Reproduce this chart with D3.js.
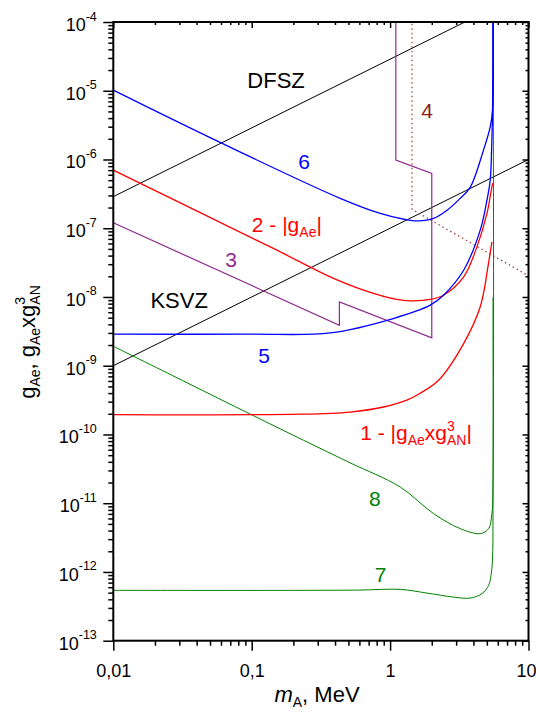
<!DOCTYPE html>
<html>
<head>
<meta charset="utf-8">
<script src="https://cdn.jsdelivr.net/npm/d3@7"></script>
<style>
body { margin: 0; background: #fff; }
text { font-family: "Liberation Sans", Arial, Helvetica, sans-serif; }
</style>
</head>
<body>
<svg id="chart" width="536" height="716"></svg>
<script>
// axes
var xMajor = [0.01, 0.1, 1, 10];
var xMajorLabels = ["0,01", "0,1", "1", "10"];
var yExponents = [-13, -12, -11, -10, -9, -8, -7, -6, -5, -4];

// reference lines  [m (MeV), g]
var dfsz = [[0.01, 2.88e-7], [10, 2.88e-4]];
var ksvz = [[0.01, 1e-9], [10, 1e-6]];

// limits  [m (MeV), g]
var curve1 = [[0.01, 1.95e-10], [0.224, 1.97e-10], [0.515, 2.12e-10], [0.896, 2.51e-10], [1.32, 3.15e-10],
              [1.65, 3.98e-10], [2.24, 6.15e-10], [3.40, 2.1e-9], [4.48, 7.2e-9], [5.14, 3.08e-8], [5.44, 6.34e-8]];
var curve2 = [[0.01, 7.0e-7], [0.1435, 5.08e-8], [0.369, 1.96e-8], [0.642, 1.26e-8], [1.12, 9.2e-9], [1.40, 8.8e-9],
              [1.95, 9.2e-9], [2.43, 1.06e-8], [3.40, 1.96e-8], [4.24, 5.36e-8], [5.01, 1.64e-7], [5.44, 4.01e-7], [5.52, 4.53e-7]];
var curve3 = [[0.01, 1.2e-7], [0.43, 3.88e-9], [0.43, 8.49e-9], [2.0, 2.54e-9], [2.0, 6.28e-7], [1.10, 9.8e-7], [1.10, 2e-4]];
var curve4 = [[1.44, 2e-4], [1.44, 1.88e-7], [10, 2.03e-8]];
var curve5 = [[0.01, 2.88e-9], [0.0974, 2.88e-9], [0.369, 3.0e-9], [1.053, 4.86e-9], [1.95, 7.6e-9], [2.43, 1.06e-8],
              [3.40, 2.45e-8], [4.48, 9.4e-8], [5.01, 2.56e-7], [5.29, 5.0e-7], [5.41, 1.37e-6], [5.50, 5e-6], [5.53, 2e-4]];
var curve6 = [[0.01, 1.02e-5], [0.0591, 1.77e-6], [0.436, 2.72e-7], [0.848, 1.64e-7], [1.285, 1.34e-7], [1.596, 1.28e-7],
              [2.06, 1.39e-7], [2.58, 1.83e-7], [3.21, 2.72e-7], [3.79, 3.93e-7], [4.73, 1.37e-6], [5.29, 2.99e-6],
              [5.50, 5.24e-6], [5.53, 2e-4]];
var curve7 = [[0.01, 5.4e-13], [0.224, 5.4e-13], [0.6, 5.45e-13], [1.183, 5.58e-13], [1.845, 4.93e-13], [2.87, 4.31e-13],
              [3.79, 4.17e-13], [4.61, 4.83e-13], [5.15, 6.38e-13], [5.38, 9.44e-13], [5.50, 1.65e-12], [5.54, 1.1e-11], [5.54, 9.9e-9]];
var curve8 = [[0.01, 1.92e-9], [0.0316, 6.1e-10], [0.1, 1.93e-10], [0.2366, 8.24e-11], [0.514, 3.87e-11], [1.183, 1.72e-11],
              [2.06, 7.06e-12], [3.21, 4.27e-12], [4.48, 3.61e-12], [5.15, 4.27e-12], [5.44, 7.06e-12], [5.54, 1.93e-11], [5.55, 2e-4]];

var width = 536, height = 716;
var plotLeft = 113.3, plotRight = 528.5, plotTop = 22, plotBottom = 640.7;

var svg = d3.select("#chart");

var x = d3.scaleLog().domain([0.01, 10]).range([plotLeft, plotRight]);
var y = d3.scaleLog().domain([1e-13, 1e-4]).range([plotBottom, plotTop]);

svg.append("defs").append("clipPath").attr("id", "plotclip")
  .append("rect")
    .attr("x", plotLeft).attr("y", plotTop)
    .attr("width", plotRight - plotLeft).attr("height", plotBottom - plotTop);

// minor tick values, 2..9 in each decade
var xMinor = [], yMinor = [];
for (var e = -2; e < 1; e++) for (var k = 2; k < 10; k++) xMinor.push(k * Math.pow(10, e));
for (var e = -13; e < -4; e++) for (var k = 2; k < 10; k++) yMinor.push(k * Math.pow(10, e));
var yMajor = yExponents.map(function(p) { return Math.pow(10, p); });

function addAxis(axis, tx, ty) {
  var g = svg.append("g").attr("transform", "translate(" + tx + "," + ty + ")").call(axis);
  g.select(".domain").remove();
  g.selectAll(".tick line").attr("stroke", "#000").attr("stroke-width", 1.5);
  return g;
}

// outward ticks: left and bottom
addAxis(d3.axisLeft(y).tickValues(yMinor).tickSize(5).tickFormat(""), plotLeft, 0);
var yAxisG = addAxis(d3.axisLeft(y).tickValues(yMajor).tickSize(10).tickFormat(""), plotLeft, 0);
addAxis(d3.axisBottom(x).tickValues(xMinor).tickSize(5).tickFormat(""), 0, plotBottom);
var xAxisG = addAxis(d3.axisBottom(x).tickValues(xMajor).tickSize(10).tickFormat(""), 0, plotBottom);

// inward ticks: top and right
addAxis(d3.axisTop(x).tickValues(xMinor).tickSize(-3).tickFormat(""), 0, plotTop);
addAxis(d3.axisTop(x).tickValues(xMajor).tickSize(-6).tickFormat(""), 0, plotTop);
addAxis(d3.axisRight(y).tickValues(yMinor).tickSize(-3).tickFormat(""), plotRight, 0);
addAxis(d3.axisRight(y).tickValues(yMajor).tickSize(-6).tickFormat(""), plotRight, 0);

yAxisG.selectAll(".tick").each(function(d, i) {
  var t = d3.select(this).append("text")
      .attr("x", -16.5).attr("y", 8.5)
      .attr("text-anchor", "end")
      .attr("fill", "#000")
      .style("font-size", "18px");
  t.append("tspan").text("10");
  t.append("tspan").attr("dy", -10.5).style("font-size", "12.5px").text(yExponents[i]);
});

xAxisG.selectAll(".tick").each(function(d, i) {
  var last = i === xMajor.length - 1;
  d3.select(this).append("text")
      .attr("x", last ? 7.5 : 0)
      .attr("y", 36).attr("text-anchor", last ? "end" : "middle")
      .attr("fill", "#000")
      .style("font-size", "18px")
      .text(xMajorLabels[i]);
});

// curves
var line = d3.line()
    .x(function(d) { return x(d[0]); })
    .y(function(d) { return y(d[1]); });
var smooth = d3.line()
    .x(function(d) { return x(d[0]); })
    .y(function(d) { return y(d[1]); })
    .curve(d3.curveCatmullRom.alpha(0.5));

var plot = svg.append("g").attr("clip-path", "url(#plotclip)");

var series = [
  {data: dfsz, color: "#000", w: 1, gen: line},
  {data: ksvz, color: "#000", w: 1, gen: line},
  {data: curve4, color: "#9b3a3a", w: 1.2, gen: line, dash: "1.5,3"},
  {data: curve3, color: "#8e2a8e", w: 1.2, gen: line},
  {data: curve8, color: "#008000", w: 1, gen: smooth},
  {data: curve7, color: "#008000", w: 1, gen: smooth},
  {data: curve1, color: "#ff0000", w: 1.3, gen: smooth},
  {data: curve2, color: "#ff0000", w: 1.3, gen: smooth},
  {data: curve5, color: "#0000ff", w: 1.3, gen: smooth},
  {data: curve6, color: "#0000ff", w: 1.3, gen: smooth}
];

plot.selectAll("path.curve")
  .data(series)
  .enter().append("path")
    .attr("class", "curve")
    .attr("fill", "none")
    .attr("stroke", function(d) { return d.color; })
    .attr("stroke-width", function(d) { return d.w; })
    .attr("stroke-dasharray", function(d) { return d.dash || null; })
    .attr("d", function(d) { return d.gen(d.data); });

// frame
svg.append("rect")
    .attr("x", plotLeft).attr("y", plotTop)
    .attr("width", plotRight - plotLeft).attr("height", plotBottom - plotTop)
    .attr("fill", "none").attr("stroke", "#000").attr("stroke-width", 2);

// curve labels [m, g] of the text anchor
function label(m, g, color, size, anchor) {
  return svg.append("text")
      .attr("x", x(m)).attr("y", y(g))
      .attr("text-anchor", anchor || "middle")
      .attr("fill", color)
      .style("font-size", size + "px");
}

label(0.150, 1.09e-5, "#000", 22).text("DFSZ");
label(0.0299, 6.87e-9, "#000", 22).text("KSVZ");
label(0.239, 7.18e-7, "#0000ff", 21).text("6");
label(0.071, 2.74e-8, "#8e2a8e", 21).text("3");
label(1.854, 3.96e-6, "#8b1a1a", 21).text("4");
label(0.123, 1.08e-9, "#0000ff", 21).text("5");
label(0.776, 9.0e-12, "#008000", 21).text("8");
label(0.855, 7.13e-13, "#008000", 21).text("7");

var l2 = label(0.1002, 8.87e-8, "#ff0000", 21, "start");
l2.append("tspan").text("2 - |g");
l2.append("tspan").attr("dy", 5).style("font-size", "14px").text("Ae");
l2.append("tspan").attr("dy", -5).text("|");

var l1 = label(0.608, 8.24e-11, "#ff0000", 21, "start");
l1.append("tspan").text("1 - |g");
l1.append("tspan").attr("dy", 5).style("font-size", "14px").text("Ae");
l1.append("tspan").attr("dy", -5).text("xg");
l1.append("tspan").attr("dy", -9).style("font-size", "14px").text("3");
l1.append("tspan").attr("dx", -7.8).attr("dy", 14).style("font-size", "14px").text("AN");
l1.append("tspan").attr("dy", -5).text("|");

// axis titles
var xt = svg.append("text")
    .attr("x", 317).attr("y", 701.5)
    .attr("text-anchor", "middle")
    .style("font-size", "22px");
xt.append("tspan").style("font-style", "italic").text("m");
xt.append("tspan").attr("dy", 5).style("font-size", "14px").text("A");
xt.append("tspan").attr("dy", -5).text(", MeV");

var yt = svg.append("text")
    .attr("transform", "translate(35,342) rotate(-90)")
    .attr("text-anchor", "middle")
    .style("font-size", "22px");
yt.append("tspan").text("g");
yt.append("tspan").attr("dy", 5).style("font-size", "14px").text("Ae");
yt.append("tspan").attr("dy", -5).text(", g");
yt.append("tspan").attr("dy", 5).style("font-size", "14px").text("Ae");
yt.append("tspan").attr("dy", -5).text("xg");
yt.append("tspan").attr("dy", -10).style("font-size", "14px").text("3");
yt.append("tspan").attr("dx", -7.8).attr("dy", 15).style("font-size", "14px").text("AN");
</script>
</body>
</html>
